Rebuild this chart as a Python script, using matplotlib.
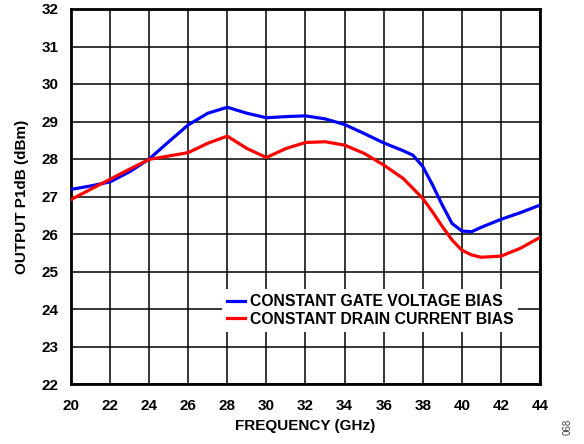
import numpy as np
import matplotlib.pyplot as plt

plt.rcParams['font.family'] = ['Liberation Sans', 'DejaVu Sans']
plt.rcParams['font.weight'] = 'bold'

# frequency points (GHz)
freq_gate = [20, 21, 22, 23, 24, 25, 26, 27, 28, 29, 30, 31, 32, 33, 34, 35, 36,
             37, 37.5, 38, 38.5, 39, 39.5, 40, 40.5, 41, 42, 43, 44]
p1db_gate = [27.19, 27.28, 27.39, 27.66, 28.0, 28.46, 28.91, 29.22, 29.38, 29.22,
             29.10, 29.13, 29.15, 29.07, 28.92, 28.68, 28.43, 28.22, 28.10, 27.80,
             27.31, 26.77, 26.28, 26.08, 26.06, 26.18, 26.39, 26.57, 26.77]

freq_drain = [20, 21, 22, 23, 24, 25, 26, 27, 28, 29, 30, 31, 32, 33, 34, 35, 36,
              37, 38, 38.5, 39, 39.5, 40, 40.5, 41, 42, 43, 44]
p1db_drain = [26.92, 27.19, 27.46, 27.73, 27.99, 28.08, 28.17, 28.42, 28.61, 28.28,
              28.04, 28.28, 28.44, 28.46, 28.37, 28.15, 27.84, 27.48, 26.95, 26.59,
              26.20, 25.84, 25.57, 25.44, 25.38, 25.41, 25.62, 25.91]

labels = ['CONSTANT GATE VOLTAGE BIAS', 'CONSTANT DRAIN CURRENT BIAS']

fig = plt.figure(figsize=(5.84, 4.44), dpi=100)
ax = fig.add_axes([71 / 584, 60 / 444, 469 / 584, 375 / 444])

ax.plot(freq_gate, p1db_gate, color='#0000ff', lw=2.3, label=labels[0], zorder=3)
ax.plot(freq_drain, p1db_drain, color='#ff0000', lw=2.3, label=labels[1], zorder=3)

ax.set_xlim(20, 44)
ax.set_ylim(22, 32)
ax.set_xticks(np.arange(20, 45, 2))
ax.set_yticks(np.arange(22, 33, 1))
ax.grid(True, color='black', lw=1.1)
ax.set_axisbelow(True)
ax.tick_params(length=0, labelsize=11, pad=9)
ax.tick_params(axis='x', pad=11)
for s in ax.spines.values():
    s.set_linewidth(2)

ax.set_xlabel('FREQUENCY (GHz)', fontsize=11, fontweight='bold', labelpad=4)
ax.set_ylabel('OUTPUT P1dB (dBm)', fontsize=11, fontweight='bold', labelpad=9)

leg = ax.legend(loc='upper left', bbox_to_anchor=(0.322, 0.253), fontsize=11.3,
                frameon=True, fancybox=False, framealpha=1, edgecolor='none',
                handlelength=1.15, handletextpad=0.3, labelspacing=0.15,
                borderpad=0.32, borderaxespad=0)

fig.text(568 / 584, 1 - 427 / 444, '068', rotation=90, fontsize=7,
         fontweight='normal', color='#444444', ha='center', va='center')

fig.savefig('out.png', dpi=100)
